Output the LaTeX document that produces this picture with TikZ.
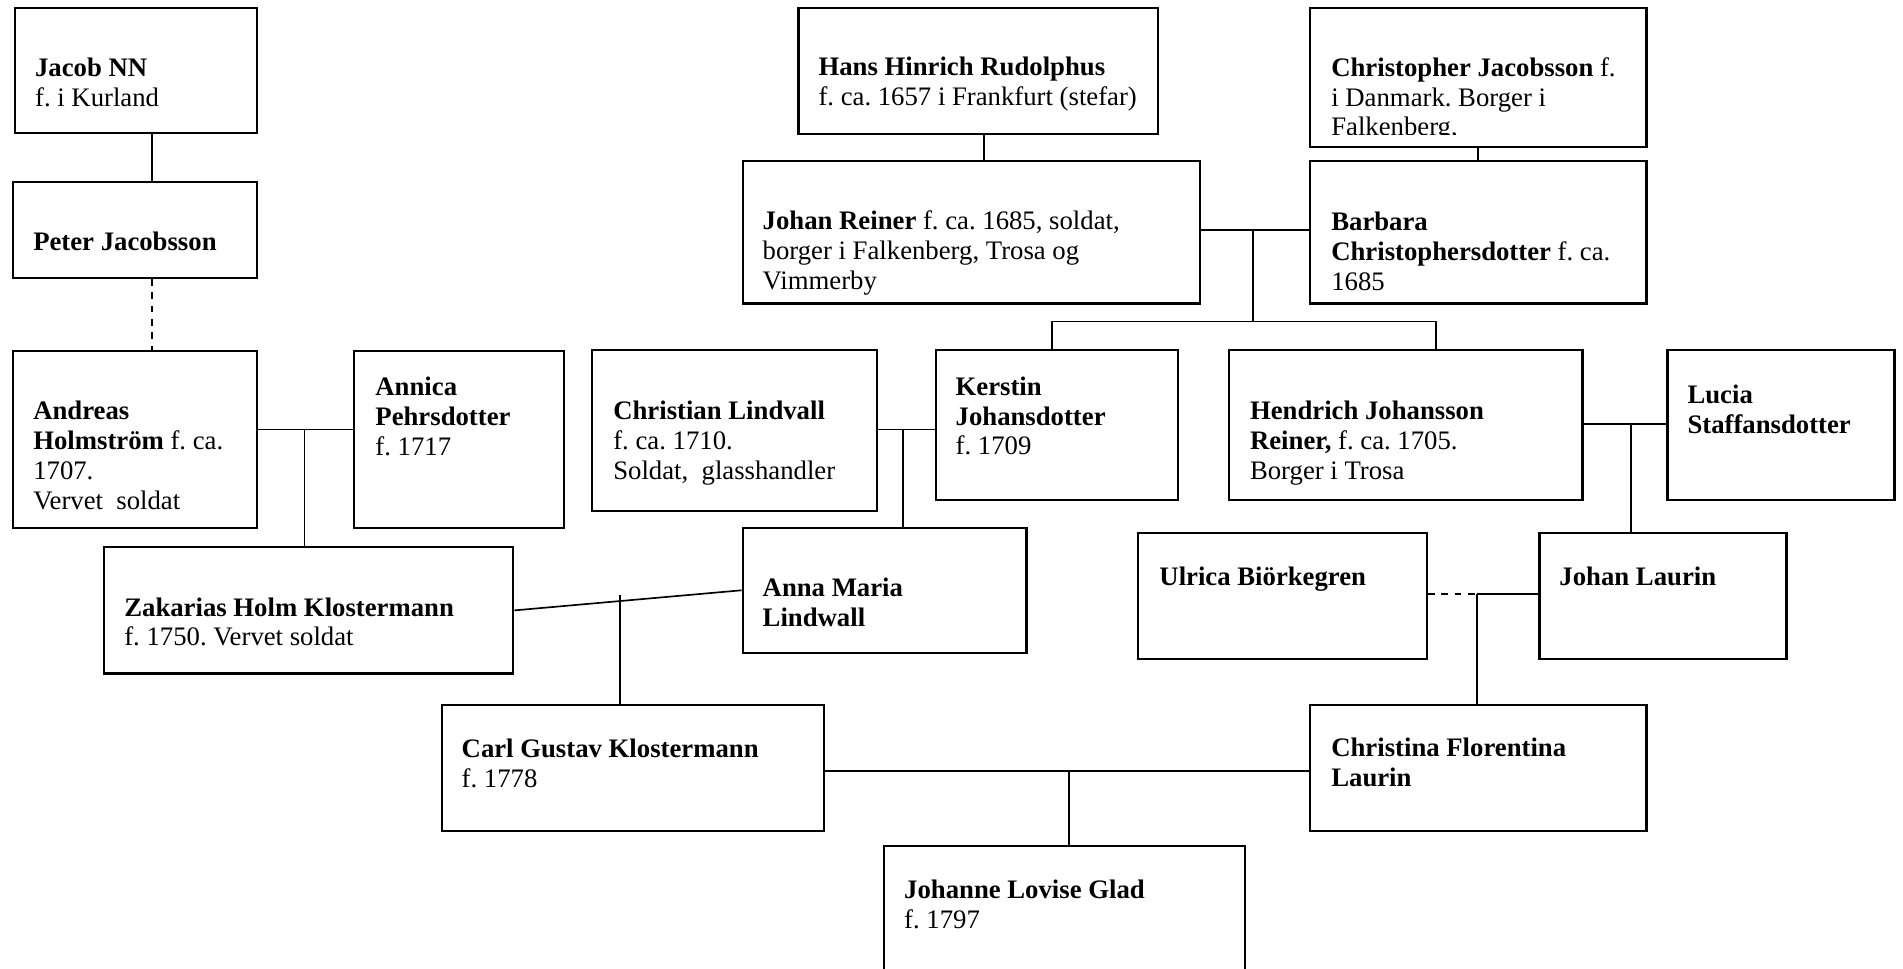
\documentclass[tikz,border=0pt]{standalone}
\usepackage{fontspec}
\setmainfont{Liberation Serif}
\usepackage{tikz}
\usetikzlibrary{positioning}
\frenchspacing

\begin{document}
\begin{tikzpicture}[x=0.545pt, y=-0.545pt,
  pbox/.style={draw, line width=1pt, anchor=north west, inner sep=0pt},
  ptext/.style={inner sep=0pt, align=left, font=\fontsize{12}{13.4}\selectfont},
  conn/.style={line width=0.75pt}]
  \path[use as bounding box, clip] (0,0) rectangle (1568,798);

  % Jacob NN line (left)
  \node[pbox, minimum width=108.7pt, minimum height=56.4pt] (jacob) at (11.5,5.5) {};
  \node[ptext, below right=22.9pt and 9.3pt of jacob.north west] (jacobT) {\textbf{Jacob NN}\\f. i Kurland};
  \node[pbox, minimum width=109.5pt, minimum height=43.1pt] (peter) at (10,149) {};
  \node[ptext, below right=22.9pt and 9.3pt of peter.north west] (peterT) {\textbf{Peter Jacobsson}};
  \node[pbox, minimum width=109.5pt, minimum height=79.6pt] (andreas) at (10,288) {};
  \node[ptext, below right=22.9pt and 9.3pt of andreas.north west] (andreasT) {\textbf{Andreas}\\\textbf{Holmström} f. ca.\\1707.\\Vervet\ \ soldat};
  \node[pbox, minimum width=94.3pt, minimum height=79.6pt] (annica) at (291,288) {};
  \node[ptext, below right=12.3pt and 9.8pt of annica.north west] (annicaT) {\textbf{Annica}\\\textbf{Pehrsdotter}\\f. 1717};
  \node[pbox, minimum width=183.7pt, minimum height=56.7pt] (zakarias) at (85,450) {};
  \node[ptext, below right=22.9pt and 9.3pt of zakarias.north west] (zakariasT) {\textbf{Zakarias Holm Klostermann}\\f. 1750. Vervet soldat};

  % Reiner line (top middle)
  \node[pbox, minimum width=161.3pt, minimum height=56.7pt] (hans) at (657,5.5) {};
  \node[ptext, below right=22.4pt and 9.3pt of hans.north west] (hansT) {\textbf{Hans Hinrich Rudolphus}\\f. ca. 1657 i Frankfurt (stefar)};
  \node[pbox, minimum width=205.5pt, minimum height=63.8pt] (johanr) at (611,132) {};
  \node[ptext, below right=22.4pt and 9.3pt of johanr.north west] (johanrT) {\textbf{Johan Reiner} f. ca. 1685, soldat,\\borger i Falkenberg, Trosa og\\Vimmerby};
  \node[pbox, minimum width=151pt, minimum height=62.4pt] (christopher) at (1078.6,5.5) {};
  \begin{scope}
    \clip (christopher.north west) rectangle (1355,111);
    \node[ptext, below right=22.6pt and 9.8pt of christopher.north west] (christopherT) {\textbf{Christopher Jacobsson} f.\\i Danmark. Borger i\\Falkenberg,};
  \end{scope}
  \node[pbox, minimum width=151pt, minimum height=63.8pt] (barbara) at (1078.6,132) {};
  \node[ptext, below right=23.1pt and 9.8pt of barbara.north west] (barbaraT) {\textbf{Barbara}\\\textbf{Christophersdotter} f. ca.\\1685};

  % second row
  \node[pbox, minimum width=127.8pt, minimum height=72.2pt] (christian) at (487,287.5) {};
  \node[ptext, below right=23.1pt and 9.8pt of christian.north west] (christianT) {\textbf{Christian Lindvall}\\f. ca. 1710.\\Soldat,\ \ glasshandler};
  \node[pbox, minimum width=108.7pt, minimum height=67.3pt] (kerstin) at (770,287.5) {};
  \node[ptext, below right=12.3pt and 9.3pt of kerstin.north west] (kerstinT) {\textbf{Kerstin}\\\textbf{Johansdotter}\\f. 1709};
  \node[pbox, minimum width=158.6pt, minimum height=67.3pt] (hendrich) at (1012,287.5) {};
  \node[ptext, below right=23.1pt and 9.6pt of hendrich.north west] (hendrichT) {\textbf{Hendrich Johansson}\\\textbf{Reiner,} f. ca. 1705.\\Borger i Trosa};
  \node[pbox, minimum width=101.9pt, minimum height=67.3pt] (lucia) at (1373,287.5) {};
  \node[ptext, below right=16pt and 9.3pt of lucia.north west] (luciaT) {\textbf{Lucia}\\\textbf{Staffansdotter}};

  % third row
  \node[pbox, minimum width=127.5pt, minimum height=56.1pt] (anna) at (611,434) {};
  \node[ptext, below right=22.9pt and 9.3pt of anna.north west] (annaT) {\textbf{Anna Maria}\\\textbf{Lindwall}};
  \node[pbox, minimum width=129.5pt, minimum height=56.4pt] (ulrica) at (937,438.5) {};
  \node[ptext, below right=15.5pt and 9.8pt of ulrica.north west] (ulricaT) {\textbf{Ulrica Biörkegren}};
  \node[pbox, minimum width=110.9pt, minimum height=56.4pt] (johanl) at (1267.5,438.5) {};
  \node[ptext, below right=15.5pt and 9.3pt of johanl.north west] (johanlT) {\textbf{Johan Laurin}};
  \node[pbox, minimum width=171.7pt, minimum height=56.7pt] (carl) at (363,580) {};
  \node[ptext, below right=15.5pt and 9.3pt of carl.north west] (carlT) {\textbf{Carl Gustav Klostermann}\\f. 1778};
  \node[pbox, minimum width=151pt, minimum height=56.7pt] (christina) at (1078.6,580) {};
  \node[ptext, below right=15.3pt and 9.8pt of christina.north west] (christinaT) {\textbf{Christina Florentina}\\\textbf{Laurin}};
  \node[pbox, minimum width=162.1pt, minimum height=81.8pt] (johanne) at (727.6,696) {};
  \node[ptext, below right=15.8pt and 9.3pt of johanne.north west] (johanneT) {\textbf{Johanne Lovise Glad}\\f. 1797};

  % Jacob -> Peter -> Andreas
  \coordinate (lineJ) at (125,0);
  \draw[conn] (jacob.south -| lineJ) -- (peter.north -| lineJ);
  \draw[conn, dashed] (peter.south -| lineJ) -- (andreas.north -| lineJ);
  % Andreas + Annica -> Zakarias
  \coordinate (wedA) at (251,354);
  \draw[conn] (andreas.east |- wedA) -- (annica.west |- wedA);
  \draw[conn] (wedA) -- (wedA |- zakarias.north);
  % Hans -> Johan Reiner, Christopher -> Barbara
  \coordinate (lineH) at (811,0);
  \draw[conn] (hans.south -| lineH) -- (johanr.north -| lineH);
  \draw[conn] (christopher.south) -- (barbara.north);
  % Johan Reiner + Barbara -> Kerstin, Hendrich
  \coordinate (wedR) at (1032.5,189.5);
  \coordinate (sibL) at (867,265);
  \coordinate (sibR) at (1183,265);
  \draw[conn] (johanr.east |- wedR) -- (barbara.west |- wedR);
  \draw[conn] (wedR) -- (wedR |- sibL);
  \draw[conn] (kerstin.north -| sibL) -- (sibL) -- (sibR) -- (hendrich.north -| sibR);
  % Christian + Kerstin -> Anna Maria
  \coordinate (wedL) at (744,354);
  \draw[conn] (christian.east |- wedL) -- (kerstin.west |- wedL);
  \draw[conn] (wedL) -- (wedL |- anna.north);
  % Hendrich + Lucia -> Johan Laurin
  \coordinate (wedH) at (1344,349.5);
  \draw[conn] (hendrich.east |- wedH) -- (lucia.west |- wedH);
  \draw[conn] (wedH) -- (wedH |- johanl.north);
  % Zakarias + Anna Maria -> Carl Gustav
  \coordinate (wedZ) at (511,490);
  \draw[conn] (zakarias.east) -- (anna.west);
  \draw[conn] (wedZ) -- (wedZ |- carl.north);
  % Ulrica - - Johan Laurin -> Christina
  \coordinate (wedU) at (1217,489.5);
  \draw[conn, dashed] (ulrica.east |- wedU) -- (wedU);
  \draw[conn] (wedU) -- (johanl.west |- wedU);
  \draw[conn] (wedU) -- (wedU |- christina.north);
  % Carl Gustav + Christina -> Johanne
  \coordinate (wedC) at (881,635);
  \draw[conn] (carl.east |- wedC) -- (christina.west |- wedC);
  \draw[conn] (wedC) -- (wedC |- johanne.north);
\end{tikzpicture}
\end{document}
